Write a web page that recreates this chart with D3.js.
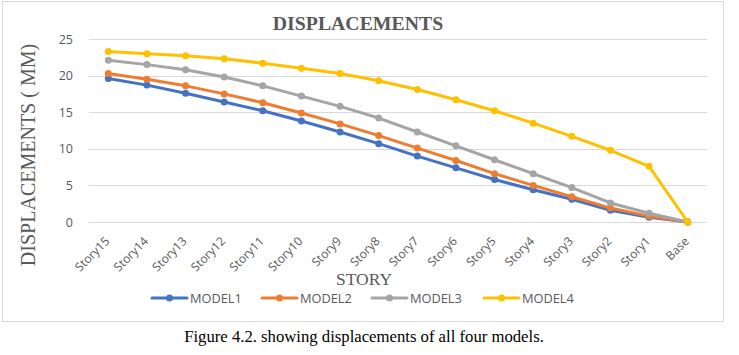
<!DOCTYPE html>
<html><head><meta charset="utf-8">
<script src="https://cdnjs.cloudflare.com/ajax/libs/d3/7.8.5/d3.min.js"></script>
<style>
html,body{margin:0;padding:0;background:#fff;}
svg{display:block;}
</style></head>
<body>
<svg id="chart" width="739" height="355"></svg>
<script>
const categories = ["Story15","Story14","Story13","Story12","Story11","Story10","Story9","Story8","Story7","Story6","Story5","Story4","Story3","Story2","Story1","Base"];
const model1 = [19.6,18.7,17.6,16.4,15.2,13.8,12.3,10.7,9.0,7.4,5.8,4.4,3.1,1.6,0.65,0];
const model2 = [20.3,19.5,18.6,17.5,16.3,14.9,13.4,11.8,10.1,8.4,6.6,5.0,3.45,1.9,0.8,0];
const model3 = [22.1,21.5,20.8,19.8,18.6,17.2,15.8,14.2,12.3,10.4,8.5,6.6,4.7,2.6,1.2,0];
const model4 = [23.3,23.0,22.7,22.3,21.7,21.0,20.3,19.3,18.1,16.7,15.2,13.5,11.7,9.8,7.6,0];
const seriesNames = ["MODEL1","MODEL2","MODEL3","MODEL4"];
const colors = ["#4472C4","#ED7D31","#A5A5A5","#FFC000"];
const yTicks = [0,5,10,15,20,25];

const series = [model1, model2, model3, model4].map((v,i)=>({name:seriesNames[i], color:colors[i], values:v}));

const svg = d3.select("#chart");

// chart border
svg.append("rect").attr("x",2.5).attr("y",1.5).attr("width",721).attr("height",320)
  .attr("fill","#fff").attr("stroke","#d9d9d9").attr("stroke-width",1);

const x = d3.scaleBand().domain(categories).range([89,707]);
const y = d3.scaleLinear().domain([0,25]).range([222,39]);

// gridlines
svg.append("g").selectAll("line").data(yTicks).join("line")
  .attr("x1",89).attr("x2",707)
  .attr("y1",d=>Math.round(y(d))+0.5).attr("y2",d=>Math.round(y(d))+0.5)
  .attr("stroke","#d9d9d9").attr("stroke-width",1);

// y axis
const yAxis = d3.axisLeft(y).tickValues(yTicks).tickSize(0).tickPadding(0);
const gy = svg.append("g").attr("transform","translate(73,0)").call(yAxis);
gy.select(".domain").remove();
gy.selectAll("text").attr("font-family","'Open Sans', sans-serif").attr("font-size",12.5).attr("fill","#595959");

// x axis
const xAxis = d3.axisBottom(x).tickSize(0).tickPadding(0);
const gx = svg.append("g").attr("transform","translate(0,222)").call(xAxis);
gx.select(".domain").remove();
gx.selectAll("text")
  .attr("font-family","'Open Sans', sans-serif").attr("font-size",12).attr("fill","#595959")
  .attr("text-anchor","end").attr("dy",0)
  .attr("transform","translate(2,20) rotate(-45)");

// lines
const line = d3.line().x((d,i)=>x(categories[i])+x.bandwidth()/2).y(d=>y(d));
const gs = svg.append("g").selectAll("g").data(series).join("g");
gs.append("path").attr("d",d=>line(d.values)).attr("fill","none")
  .attr("stroke",d=>d.color).attr("stroke-width",3).attr("stroke-linejoin","round").attr("stroke-linecap","round");
gs.each(function(s){
  d3.select(this).selectAll("circle").data(s.values).join("circle")
    .attr("cx",(d,i)=>x(categories[i])+x.bandwidth()/2).attr("cy",d=>y(d))
    .attr("r",3.5).attr("fill",s.color);
});

// title
svg.append("text").attr("x",358).attr("y",30).attr("text-anchor","middle")
  .attr("font-family","'Liberation Serif', 'Times New Roman', serif").attr("font-weight","bold")
  .attr("font-size",19.8).attr("fill","#595959").text("DISPLACEMENTS");

// y title
svg.append("text").attr("transform","translate(35,155) rotate(-90)").attr("text-anchor","middle")
  .attr("font-family","'Liberation Serif', 'Times New Roman', serif")
  .attr("font-size",20).attr("fill","#595959").text("DISPLACEMENTS ( MM)");

// x title
svg.append("text").attr("x",364).attr("y",285).attr("text-anchor","middle")
  .attr("font-family","'Liberation Serif', 'Times New Roman', serif")
  .attr("font-size",17.5).attr("fill","#595959").text("STORY");

// legend
const legX = [152,262,372,484];
const lg = svg.append("g").selectAll("g").data(series).join("g")
  .attr("transform",(d,i)=>`translate(${legX[i]},298)`);
lg.append("line").attr("x1",0).attr("x2",35).attr("y1",0).attr("y2",0)
  .attr("stroke",d=>d.color).attr("stroke-width",3).attr("stroke-linecap","round");
lg.append("circle").attr("cx",17.5).attr("cy",0).attr("r",3.5).attr("fill",d=>d.color);
lg.append("text").attr("x",38).attr("y",4.5)
  .attr("font-family","'Open Sans', sans-serif").attr("font-size",12.8).attr("fill","#595959")
  .text(d=>d.name);

// caption
svg.append("text").attr("x",364).attr("y",342).attr("text-anchor","middle")
  .attr("font-family","'Liberation Serif', 'Times New Roman', serif")
  .attr("font-size",16.7).attr("fill","#000").text("Figure 4.2. showing displacements of all four models.");
</script>
</body></html>
